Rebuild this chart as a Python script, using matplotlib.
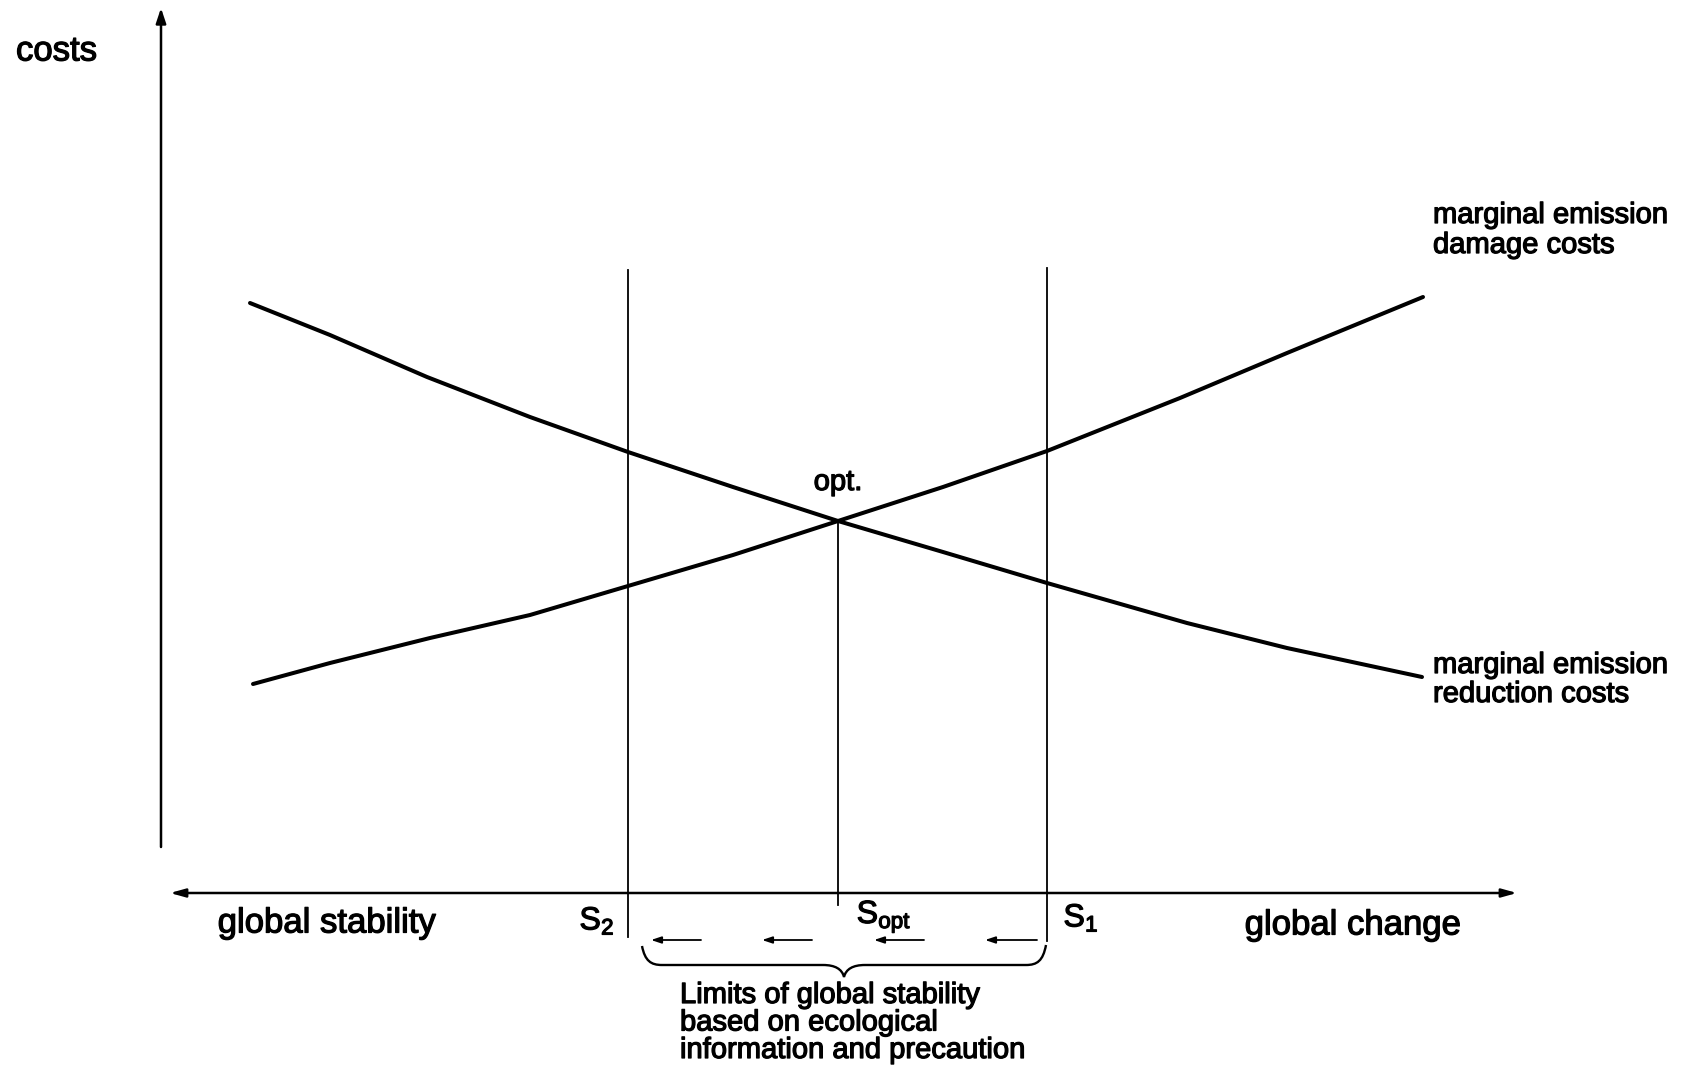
import numpy as np
import matplotlib.pyplot as plt
import matplotlib.patheffects as pe
from matplotlib.path import Path
from matplotlib.patches import PathPatch

plt.rcParams['font.family'] = ['Liberation Sans', 'DejaVu Sans']
plt.rcParams['mathtext.fontset'] = 'custom'
plt.rcParams['mathtext.rm'] = 'Liberation Sans'

# 曲线数据（横轴：全球变化程度，纵轴：成本）
x_reduction = [0.87, 1.67, 2.64, 3.67, 4.65, 5.70, 6.75, 7.80, 8.84, 10.24, 11.24, 12.59]
y_reduction = [5.90, 5.58, 5.16, 4.76, 4.41, 4.06, 3.72, 3.41, 3.10, 2.70, 2.45, 2.16]

x_damage = [0.90, 1.67, 2.67, 3.67, 4.65, 5.70, 6.75, 7.80, 8.84, 10.17, 11.24, 12.60]
y_damage = [2.09, 2.30, 2.55, 2.78, 3.07, 3.38, 3.72, 4.06, 4.42, 4.95, 5.40, 5.96]

# 关键位置
s2 = 4.65
s_opt = 6.75
s1 = 8.84
cost_opt = 3.72

label_damage = ['marginal emission', 'damage costs']
label_reduction = ['marginal emission', 'reduction costs']
label_limits = ['Limits of global stability', 'based on ecological', 'information and precaution']

# 小箭头（起点, 终点）
arrow_segments = [(5.38, 4.88), (6.49, 5.99), (7.61, 7.11), (8.74, 8.22)]

fig = plt.figure(figsize=(16.87, 10.72), dpi=100)
ax = fig.add_axes([0, 0, 1, 1])
ax.set_xlim(-1.63, 15.24)
ax.set_ylim(-1.79, 8.93)
ax.axis('off')

# 扫描件的字体偏粗，用描边加粗一点
bold = [pe.withStroke(linewidth=0.9, foreground='black')]

# 坐标轴
ax.annotate('', xy=(-0.02, 8.85), xytext=(-0.02, 0.46),
            arrowprops=dict(arrowstyle='-|>,head_length=0.9,head_width=0.3', color='black', lw=1.8,
                            shrinkA=0, shrinkB=0))
ax.annotate('', xy=(13.54, 0), xytext=(0.07, 0),
            arrowprops=dict(arrowstyle='<|-|>,head_length=0.9,head_width=0.25', color='black', lw=1.8,
                            shrinkA=0, shrinkB=0))

# 两条边际成本曲线
ax.plot(x_reduction, y_reduction, color='black', lw=2.9, solid_capstyle='round', solid_joinstyle='round')
ax.plot(x_damage, y_damage, color='black', lw=2.9, solid_capstyle='round', solid_joinstyle='round')

# 竖线
ax.plot([s2, s2], [6.23, -0.44], color='black', lw=1.3)
ax.plot([s1, s1], [6.25, -0.48], color='black', lw=1.3)
ax.plot([s_opt, s_opt], [cost_opt, -0.12], color='black', lw=1.3)

# 向左的小箭头
for x0, x1 in arrow_segments:
    ax.annotate('', xy=(x1, -0.47), xytext=(x0, -0.47),
                arrowprops=dict(arrowstyle='-|>,head_length=0.6,head_width=0.2', color='black', lw=1.3,
                                shrinkA=0, shrinkB=0))

# 大括号
verts = [(4.79, -0.53), (4.82, -0.68), (4.88, -0.72), (4.99, -0.72),
         (6.60, -0.72),
         (6.72, -0.72), (6.79, -0.76), (6.81, -0.84),
         (6.83, -0.76), (6.90, -0.72), (7.02, -0.72),
         (8.63, -0.72),
         (8.74, -0.72), (8.80, -0.68), (8.83, -0.52)]
codes = [Path.MOVETO, Path.CURVE4, Path.CURVE4, Path.CURVE4,
         Path.LINETO,
         Path.CURVE4, Path.CURVE4, Path.CURVE4,
         Path.CURVE4, Path.CURVE4, Path.CURVE4,
         Path.LINETO,
         Path.CURVE4, Path.CURVE4, Path.CURVE4]
ax.add_patch(PathPatch(Path(verts, codes), facecolor='none', edgecolor='black', lw=1.7))

# 文字
ax.text(-1.47, 8.42, 'costs', fontsize=25, ha='left', va='center', path_effects=bold)
ax.text(1.64, -0.30, 'global stability', fontsize=25, ha='center', va='center', path_effects=bold)
ax.text(11.90, -0.32, 'global change', fontsize=25, ha='center', va='center', path_effects=bold)
ax.text(s_opt, 4.11, 'opt.', fontsize=21, ha='center', va='center', path_effects=bold)

ax.text(4.34, -0.28, r'$\mathregular{S_2}$', fontsize=23, ha='center', va='center', path_effects=bold)
ax.text(7.21, -0.24, r'$\mathregular{S_{opt}}$', fontsize=23, ha='center', va='center', path_effects=bold)
ax.text(9.18, -0.25, r'$\mathregular{S_1}$', fontsize=23, ha='center', va='center', path_effects=bold)

for i, line in enumerate(label_damage):
    ax.text(12.70, 6.78 - 0.30 * i, line, fontsize=21, ha='left', va='center', path_effects=bold)
for i, line in enumerate(label_reduction):
    ax.text(12.70, 2.28 - 0.29 * i, line, fontsize=21, ha='left', va='center', path_effects=bold)
for i, line in enumerate(label_limits):
    ax.text(5.17, -1.02 - 0.275 * i, line, fontsize=21, ha='left', va='center', path_effects=bold)

plt.savefig('out.png', dpi=100)
